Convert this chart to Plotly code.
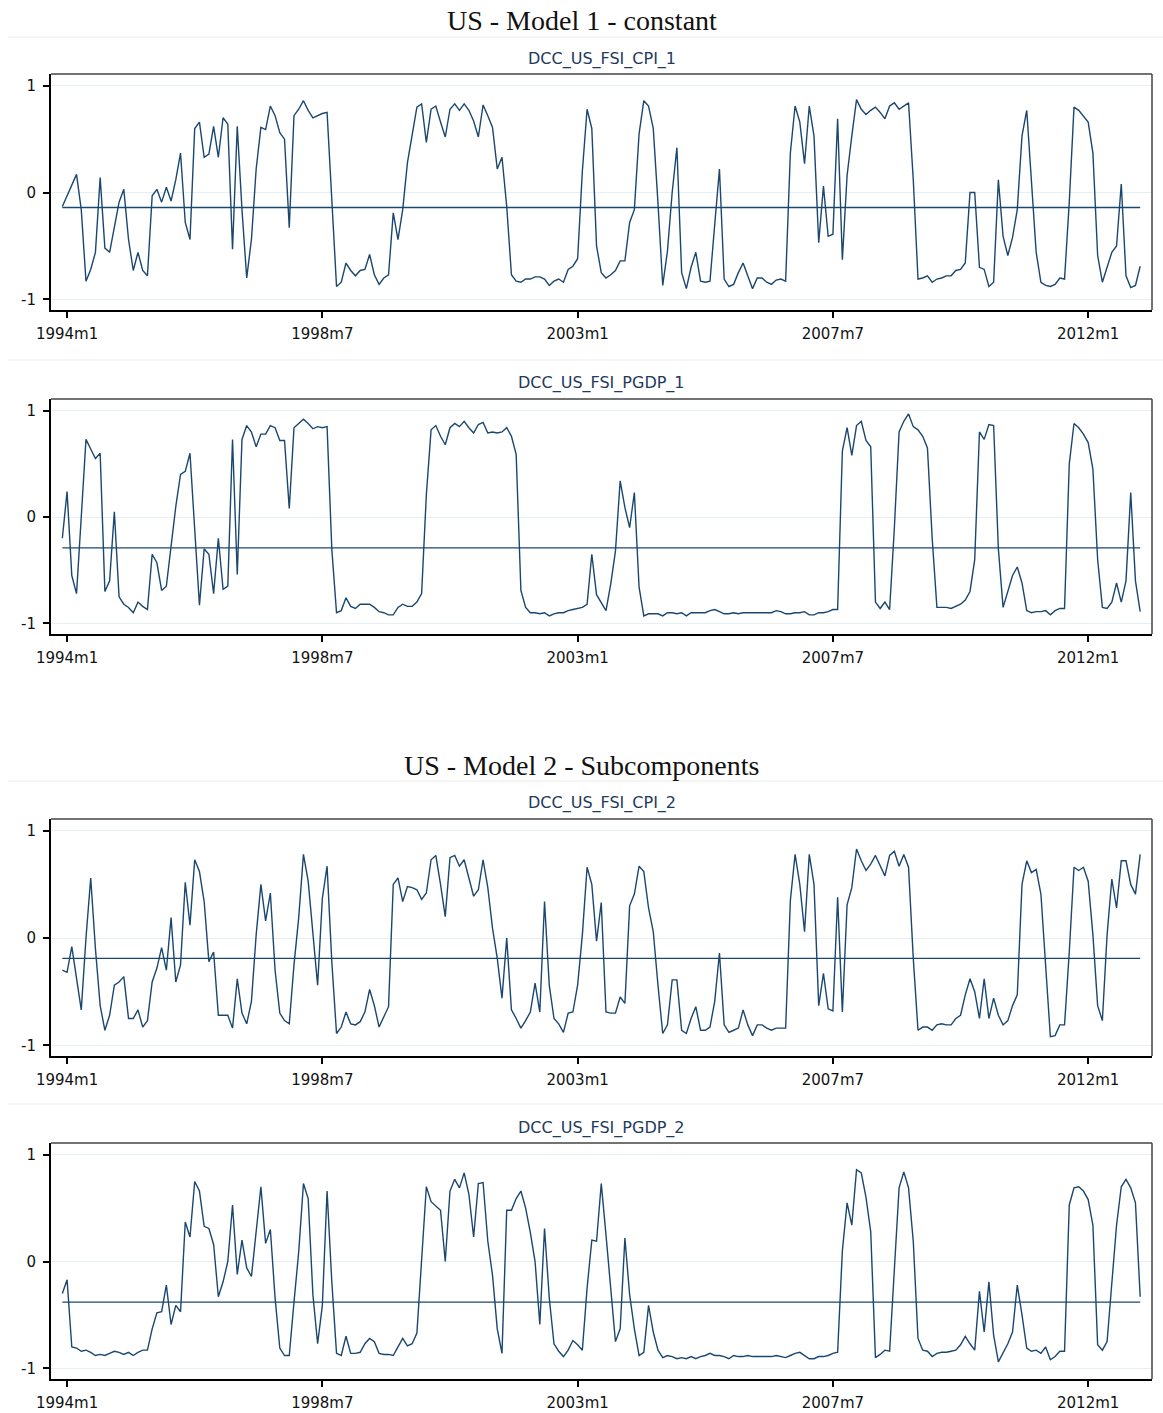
import plotly.graph_objects as go

W, H = 1163, 1413

# ---------------- data (monthly, starting one month before 1994m1) ----------------
tick_vals = [0, 54, 108, 162, 216]          # month offsets from 1994m1
tick_text = ["1994m1", "1998m7", "2003m1", "2007m7", "2012m1"]
start_offset = -1

cpi_1 = [
    -0.13, -0.03, 0.07, 0.17, -0.16, -0.83, -0.72, -0.56, 0.14, -0.52,
    -0.56, -0.31, -0.09, 0.03, -0.44, -0.73, -0.56, -0.73, -0.78, -0.03,
    0.03, -0.09, 0.05, -0.08, 0.12, 0.37, -0.28, -0.44, 0.60, 0.66,
    0.33, 0.36, 0.62, 0.33, 0.70, 0.64, -0.53, 0.62, -0.16, -0.80,
    -0.44, 0.22, 0.61, 0.59, 0.81, 0.72, 0.56, 0.50, -0.33, 0.72,
    0.78, 0.86, 0.77, 0.70, 0.72, 0.74, 0.75, -0.09, -0.88, -0.84,
    -0.66, -0.73, -0.78, -0.73, -0.72, -0.58, -0.77, -0.86, -0.80, -0.77,
    -0.19, -0.44, -0.16, 0.28, 0.53, 0.80,
    0.83, 0.47, 0.78, 0.81, 0.66, 0.52, 0.78, 0.83, 0.77, 0.83,
    0.77, 0.67, 0.52, 0.82, 0.72, 0.61, 0.22, 0.33, -0.13, -0.77,
    -0.83, -0.84, -0.81, -0.81, -0.79, -0.79, -0.81, -0.87, -0.83, -0.81,
    -0.84, -0.72, -0.69, -0.62, 0.20, 0.78, 0.60, -0.50, -0.75, -0.80,
    -0.77, -0.73, -0.64, -0.64, -0.28, -0.16, 0.55, 0.86, 0.81, 0.60,
    -0.10, -0.87, -0.55, 0.00, 0.42, -0.75, -0.90, -0.70, -0.56, -0.83,
    -0.84, -0.83, -0.30, 0.22, -0.81, -0.88, -0.86, -0.75, -0.66, -0.78,
    -0.90, -0.80, -0.80, -0.84, -0.86, -0.82,
    -0.81, -0.83, 0.37, 0.81, 0.66, 0.27, 0.81, 0.53, -0.47, 0.06,
    -0.41, -0.39, 0.69, -0.63, 0.16, 0.53, 0.87, 0.78, 0.73, 0.77,
    0.80, 0.75, 0.69, 0.81, 0.84, 0.78, 0.81, 0.84, 0.12, -0.81,
    -0.80, -0.78, -0.84, -0.81, -0.80, -0.78, -0.78, -0.73, -0.72, -0.66,
    0.00, 0.00, -0.70, -0.72, -0.88, -0.84, 0.12, -0.41, -0.59, -0.42,
    -0.16, 0.53, 0.77, 0.06, -0.56, -0.84, -0.87, -0.88, -0.86, -0.80,
    -0.81, -0.09, 0.80, 0.77, 0.72, 0.66, 0.37, -0.59, -0.84, -0.69,
    -0.56, -0.50, 0.08, -0.78, -0.89, -0.87, -0.69,
]

pgdp_1 = [
    -0.20, 0.24, -0.55, -0.72, 0.00, 0.73, 0.64, 0.55, 0.60, -0.70,
    -0.60, 0.05, -0.75, -0.82, -0.85, -0.90, -0.80, -0.84, -0.87, -0.35,
    -0.43, -0.69, -0.65, -0.29, 0.10, 0.40, 0.43, 0.60, -0.10, -0.83,
    -0.30, -0.35, -0.72, -0.20, -0.68, -0.65, 0.73, -0.54, 0.73, 0.86,
    0.80, 0.66, 0.78, 0.78, 0.86, 0.84, 0.72, 0.72, 0.08, 0.84,
    0.88, 0.92, 0.88, 0.83, 0.85, 0.84, 0.85, -0.30, -0.90, -0.88,
    -0.76, -0.84, -0.86, -0.82, -0.82, -0.82, -0.85, -0.89, -0.90, -0.92,
    -0.92, -0.85, -0.82, -0.84, -0.84, -0.80,
    -0.72, 0.21, 0.82, 0.86, 0.76, 0.68, 0.84, 0.88, 0.85, 0.90,
    0.84, 0.79, 0.87, 0.89, 0.79, 0.80, 0.79, 0.80, 0.84, 0.76,
    0.59, -0.69, -0.85, -0.90, -0.90, -0.91, -0.90, -0.93, -0.91, -0.90,
    -0.90, -0.88, -0.87, -0.86, -0.85, -0.82, -0.35, -0.73, -0.80, -0.88,
    -0.63, -0.32, 0.34, 0.09, -0.10, 0.23, -0.66, -0.93, -0.91, -0.91,
    -0.91, -0.93, -0.90, -0.90, -0.91, -0.90, -0.93, -0.90, -0.90, -0.90,
    -0.90, -0.88, -0.87, -0.89, -0.91, -0.91, -0.90, -0.91, -0.90, -0.90,
    -0.90, -0.90, -0.90, -0.90, -0.90, -0.88,
    -0.89, -0.91, -0.91, -0.90, -0.90, -0.89, -0.92, -0.92, -0.90, -0.90,
    -0.89, -0.87, -0.87, 0.62, 0.84, 0.58, 0.86, 0.90, 0.72, 0.66,
    -0.80, -0.86, -0.80, -0.87, -0.10, 0.80, 0.90, 0.97, 0.85, 0.82,
    0.76, 0.65, -0.20, -0.85, -0.85, -0.85, -0.86, -0.84, -0.82, -0.78,
    -0.70, -0.40, 0.80, 0.73, 0.87, 0.86, -0.30, -0.85, -0.70, -0.55,
    -0.47, -0.62, -0.88, -0.90, -0.89, -0.89, -0.88, -0.92, -0.88, -0.86,
    -0.86, 0.50, 0.88, 0.84, 0.78, 0.70, 0.45, -0.40, -0.85, -0.86,
    -0.80, -0.62, -0.80, -0.60, 0.23, -0.60, -0.89,
]

cpi_2 = [
    -0.30, -0.32, -0.08, -0.36, -0.67, 0.00, 0.56, -0.10, -0.63, -0.86,
    -0.72, -0.44, -0.41, -0.36, -0.75, -0.75, -0.67, -0.83, -0.77, -0.41,
    -0.28, -0.09, -0.30, 0.19, -0.41, -0.25, 0.52, 0.12, 0.73, 0.62,
    0.34, -0.22, -0.13, -0.72, -0.72, -0.72, -0.84, -0.38, -0.70, -0.80,
    -0.59, 0.03, 0.50, 0.16, 0.42, -0.30, -0.70, -0.77, -0.80, -0.25,
    0.19, 0.78, 0.53, 0.03, -0.44, 0.37, 0.67, -0.22, -0.89, -0.83,
    -0.69, -0.80, -0.81, -0.78, -0.69, -0.48, -0.63, -0.83, -0.73, -0.64,
    0.50, 0.56, 0.34, 0.48, 0.47, 0.45,
    0.36, 0.42, 0.73, 0.77, 0.50, 0.20, 0.75, 0.77, 0.67, 0.73,
    0.56, 0.39, 0.45, 0.73, 0.47, 0.09, -0.19, -0.56, 0.00, -0.67,
    -0.75, -0.84, -0.77, -0.69, -0.42, -0.69, 0.34, -0.44, -0.75, -0.80,
    -0.88, -0.70, -0.69, -0.44, 0.03, 0.66, 0.50, -0.03, 0.33, -0.69,
    -0.70, -0.70, -0.55, -0.61, 0.30, 0.41, 0.67, 0.62, 0.28, 0.06,
    -0.44, -0.89, -0.81, -0.39, -0.39, -0.86, -0.89, -0.75, -0.64, -0.86,
    -0.86, -0.83, -0.59, -0.14, -0.81, -0.88, -0.86, -0.84, -0.67, -0.81,
    -0.91, -0.81, -0.81, -0.84, -0.86, -0.84,
    -0.84, -0.84, 0.35, 0.78, 0.50, 0.06, 0.78, 0.50, -0.63, -0.33,
    -0.66, -0.68, 0.38, -0.69, 0.31, 0.47, 0.83, 0.72, 0.63, 0.69,
    0.77, 0.67, 0.58, 0.77, 0.81, 0.67, 0.78, 0.66, -0.19, -0.86,
    -0.83, -0.83, -0.86, -0.81, -0.80, -0.81, -0.81, -0.75, -0.72, -0.53,
    -0.38, -0.50, -0.75, -0.38, -0.75, -0.56, -0.72, -0.81, -0.77, -0.63,
    -0.53, 0.50, 0.72, 0.61, 0.64, 0.41, -0.28, -0.92, -0.91, -0.81,
    -0.81, -0.13, 0.66, 0.63, 0.66, 0.53, 0.03, -0.63, -0.77, 0.03,
    0.55, 0.28, 0.72, 0.72, 0.50, 0.41, 0.78,
]

pgdp_2 = [
    -0.30, -0.17, -0.80, -0.81, -0.84, -0.83, -0.85, -0.88, -0.87, -0.88,
    -0.86, -0.84, -0.85, -0.87, -0.85, -0.88, -0.85, -0.83, -0.83, -0.63,
    -0.48, -0.47, -0.22, -0.59, -0.41, -0.47, 0.37, 0.23, 0.75, 0.66,
    0.33, 0.31, 0.16, -0.33, -0.19, 0.00, 0.53, -0.12, 0.20, -0.06,
    -0.14, 0.28, 0.70, 0.17, 0.30, -0.34, -0.81, -0.88, -0.88, -0.38,
    0.09, 0.73, 0.59, -0.31, -0.77, -0.41, 0.66, -0.19, -0.86, -0.88,
    -0.70, -0.86, -0.86, -0.85, -0.77, -0.72, -0.75, -0.86, -0.87, -0.87,
    -0.88, -0.80, -0.72, -0.79, -0.77, -0.67,
    -0.03, 0.70, 0.56, 0.52, 0.48, 0.00, 0.66, 0.77, 0.69, 0.83,
    0.63, 0.23, 0.73, 0.74, 0.19, -0.13, -0.63, -0.86, 0.48, 0.48,
    0.59, 0.66, 0.50, 0.27, 0.00, -0.59, 0.31, -0.34, -0.77, -0.84,
    -0.89, -0.83, -0.74, -0.78, -0.83, -0.25, 0.20, 0.19, 0.73, 0.25,
    -0.28, -0.75, -0.63, 0.22, -0.31, -0.63, -0.88, -0.85, -0.41, -0.66,
    -0.83, -0.90, -0.88, -0.89, -0.91, -0.90, -0.91, -0.89, -0.91, -0.89,
    -0.88, -0.86, -0.88, -0.88, -0.89, -0.91, -0.88, -0.89, -0.89, -0.88,
    -0.89, -0.89, -0.89, -0.89, -0.89, -0.88,
    -0.89, -0.90, -0.88, -0.86, -0.85, -0.88, -0.91, -0.91, -0.89, -0.89,
    -0.88, -0.86, -0.85, 0.10, 0.55, 0.34, 0.86, 0.83, 0.60, 0.28,
    -0.90, -0.87, -0.83, -0.84, -0.06, 0.69, 0.84, 0.69, 0.19, -0.72,
    -0.83, -0.84, -0.89, -0.86, -0.85, -0.85, -0.84, -0.83, -0.78, -0.70,
    -0.77, -0.83, -0.28, -0.66, -0.19, -0.69, -0.94, -0.86, -0.77, -0.66,
    -0.22, -0.50, -0.81, -0.84, -0.83, -0.86, -0.80, -0.92, -0.89, -0.84,
    -0.84, 0.53, 0.69, 0.70, 0.66, 0.58, 0.34, -0.78, -0.83, -0.75,
    -0.19, 0.34, 0.70, 0.77, 0.69, 0.55, -0.33,
]

# horizontal reference levels
ref_levels = [-0.14, -0.29, -0.19, -0.38]

series_names = ["DCC_US_FSI_CPI_1", "DCC_US_FSI_PGDP_1", "DCC_US_FSI_CPI_2", "DCC_US_FSI_PGDP_2"]
group_titles = ["US - Model 1 - constant", "US - Model 2 - Subcomponents"]

# ---------------- layout geometry (pixels) ----------------
NAVY = "#1a476f"
plot_left, plot_right = 51, 1152
panel_px = [(74, 310), (399, 634), (819, 1056), (1143, 1379)]
subtitle_y = [59, 383, 803, 1128]
title_y = [20, 765]
sep_lines = [37, 360, 781, 1104]

def py(px):
    return 1 - px / H

fig = go.Figure()
all_series = [cpi_1, pgdp_1, cpi_2, pgdp_2]
layout = {}
for i, vals in enumerate(all_series):
    xa = "x" if i == 0 else f"x{i+1}"
    ya = "y" if i == 0 else f"y{i+1}"
    months = list(range(start_offset, start_offset + len(vals)))
    fig.add_trace(go.Scatter(x=months, y=vals, mode="lines",
                             line=dict(color=NAVY, width=1.4),
                             xaxis=xa, yaxis=ya, showlegend=False, hoverinfo="skip"))
    fig.add_trace(go.Scatter(x=[months[0], months[-1]], y=[ref_levels[i]] * 2, mode="lines",
                             line=dict(color=NAVY, width=1.4),
                             xaxis=xa, yaxis=ya, showlegend=False, hoverinfo="skip"))
    top, bot = panel_px[i]
    xkey = "xaxis" if i == 0 else f"xaxis{i+1}"
    ykey = "yaxis" if i == 0 else f"yaxis{i+1}"
    layout[xkey] = dict(
        domain=[plot_left / W, plot_right / W], range=[-3.4, 229.5], anchor=ya,
        tickmode="array", tickvals=tick_vals, ticktext=tick_text,
        ticks="outside", ticklen=6, tickwidth=1.5, tickcolor="#000",
        ticklabelstandoff=3, automargin=False,
        showgrid=False, zeroline=False, showline=True, linecolor="#000", linewidth=2,
        tickfont=dict(family="DejaVu Sans", size=15, color="#111"),
        fixedrange=True,
    )
    layout[ykey] = dict(
        domain=[py(bot), py(top)], range=[-1.10, 1.11], anchor=xa,
        tickmode="array", tickvals=[-1, 0, 1], ticktext=["-1", "0", "1"],
        ticks="outside", ticklen=6, tickwidth=1.5, tickcolor="#000",
        ticklabelstandoff=4, automargin=False,
        showgrid=True, gridcolor="#e6eff1", gridwidth=1,
        zeroline=False, showline=True, linecolor="#000", linewidth=2,
        tickfont=dict(family="DejaVu Sans", size=15, color="#111"),
        fixedrange=True,
    )

shapes = []
for top, bot in panel_px:
    # thin frame on top and right
    shapes.append(dict(type="line", xref="paper", yref="paper",
                       x0=plot_left / W, x1=plot_right / W, y0=py(top), y1=py(top),
                       line=dict(color="#444", width=1.5)))
    shapes.append(dict(type="line", xref="paper", yref="paper",
                       x0=plot_right / W, x1=plot_right / W, y0=py(top), y1=py(bot),
                       line=dict(color="#444", width=1.5)))
for yl in sep_lines:
    shapes.append(dict(type="line", xref="paper", yref="paper",
                       x0=8 / W, x1=1.0, y0=py(yl), y1=py(yl),
                       line=dict(color="#ececec", width=1)))

annotations = []
for t, yt in zip(group_titles, title_y):
    annotations.append(dict(text=t, x=0.5, y=py(yt), xref="paper", yref="paper",
                            xanchor="center", yanchor="middle", showarrow=False,
                            font=dict(family="Liberation Serif", size=28, color="#111")))
for name, ys in zip(series_names, subtitle_y):
    annotations.append(dict(text=name, x=(plot_left + plot_right) / 2 / W, y=py(ys),
                            xref="paper", yref="paper", xanchor="center", yanchor="middle",
                            showarrow=False,
                            font=dict(family="DejaVu Sans", size=16, color="#1e3a5c")))

fig.update_layout(
    width=W, height=H, margin=dict(l=0, r=0, t=0, b=0),
    paper_bgcolor="white", plot_bgcolor="white",
    shapes=shapes, annotations=annotations, **layout,
)

fig.write_html("out.html")
